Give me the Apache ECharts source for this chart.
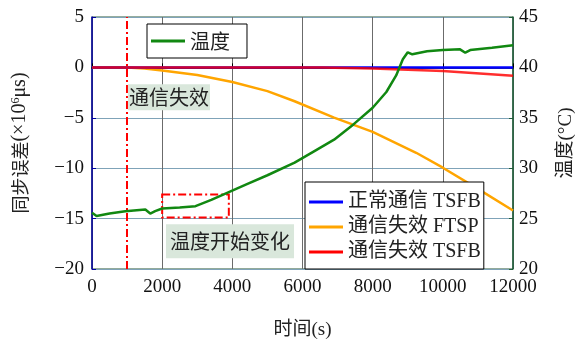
<!DOCTYPE html>
<html>
<head>
<meta charset="utf-8">
<script src="https://cdn.jsdelivr.net/npm/echarts@6/dist/echarts.min.js"></script>
<style>
  html, body { margin: 0; padding: 0; background: #fff; }
  #chart { width: 584px; height: 345px; }
</style>
</head>
<body>
<div id="chart"></div>
<script>
const SERIF = "'Liberation Serif', 'Noto Sans CJK SC', serif";
const CJK = "'Noto Sans CJK SC', 'Liberation Serif', sans-serif";

// Time axis (s)
const timeMin = 0, timeMax = 12000, timeStep = 2000;
// Left axis: synchronisation error (×10^6 μs)
const errMin = -20, errMax = 5, errStep = 5;
// Right axis: temperature (°C)
const tempMin = 20, tempMax = 45, tempStep = 5;

// Temperature curve (°C)
const tempTime  = [0, 130, 500, 950, 1520, 1660, 1800, 2000, 2500, 2950, 3400, 3900, 4400, 5000, 5775, 6340, 6900, 7460, 8000, 8390, 8670, 8860, 9000, 9130, 9550, 10000, 10490, 10640, 10780, 11400, 12000];
const tempValue = [25.58, 25.25, 25.5, 25.74, 25.9, 25.5, 25.74, 26.0, 26.1, 26.23, 26.85, 27.63, 28.4, 29.3, 30.56, 31.7, 32.83, 34.37, 36.0, 37.56, 39.2, 40.8, 41.5, 41.3, 41.6, 41.72, 41.79, 41.46, 41.72, 41.95, 42.2];

// FTSP error after the link failure
const ftspTime  = [0, 1000, 1500, 2000, 3000, 4000, 5000, 5775, 6900, 8000, 9240, 10000, 11000, 12000];
const ftspValue = [0, 0, -0.1, -0.3, -0.75, -1.45, -2.35, -3.36, -4.98, -6.4, -8.47, -9.95, -12.05, -14.2];

// TSFB error after the link failure
const tsfbFailTime  = [0, 6570, 8000, 10000, 12000];
const tsfbFailValue = [0, 0, -0.12, -0.35, -0.83];

// TSFB error with normal communication
const tsfbNormalTime  = [0, 12000];
const tsfbNormalValue = [0, 0];

// Annotations
const failureTime = 1000;
const tempChangeBox = [[2000, -12.6], [3900, -14.9]];
const failureLabelAt = [1025, -2.95];
const tempChangeLabelAt = [2110, -17.25];

const pairs = (xs, ys) => xs.map((x, i) => [x, ys[i]]);
const minus = v => String(v).replace('-', '\u2212');
const plain = v => String(v);
const dashDot = [8, 3, 2, 3];

const chart = echarts.init(document.getElementById('chart'), null, { renderer: 'canvas' });

const option = {
  backgroundColor: '#fff',
  animation: false,
  grid: {
    left: 92, right: 67, top: 17, bottom: 72,
    show: true, borderColor: '#2d5a3c', borderWidth: 1, backgroundColor: 'transparent'
  },
  legend: [
    {
      data: ['温度'],
      left: 147, top: 24,
      icon: 'rect', itemWidth: 34, itemHeight: 3,
      padding: [7, 17, 7, 4],
      backgroundColor: '#fff', borderColor: '#000', borderWidth: 1,
      textStyle: { fontFamily: CJK, fontSize: 20, color: '#222', lineHeight: 20 }
    },
    {
      data: ['正常通信 TSFB', '通信失效 FTSP', '通信失效 TSFB'],
      orient: 'vertical',
      left: 305, top: 182,
      icon: 'rect', itemWidth: 34, itemHeight: 3, itemGap: 3,
      padding: [9, 3, 6, 4],
      backgroundColor: '#fff', borderColor: '#000', borderWidth: 1,
      textStyle: { fontFamily: SERIF, fontSize: 20, color: '#222', lineHeight: 22 }
    }
  ],
  xAxis: {
    type: 'value', min: timeMin, max: timeMax, interval: timeStep,
    name: '时间(s)', nameLocation: 'middle', nameGap: 52,
    nameTextStyle: { fontFamily: SERIF, fontSize: 19, color: '#222' },
    axisLine: { show: true, lineStyle: { color: '#000', width: 1.5 } },
    axisTick: { show: true, inside: true, length: 4, lineStyle: { color: '#000' } },
    axisLabel: { fontFamily: SERIF, fontSize: 19, color: '#111', margin: 9, formatter: plain },
    splitLine: { show: true, lineStyle: { color: '#6b6b6b', width: 1 } }
  },
  yAxis: [
    {
      type: 'value', min: errMin, max: errMax, interval: errStep, position: 'left',
      name: '{c|同步误差}{l|(×10}{s|6}{l|μs)}',
      nameLocation: 'middle', nameGap: 62, nameRotate: 90,
      nameTextStyle: {
        color: '#222',
        rich: {
          c: { fontFamily: CJK, fontSize: 18, color: '#222' },
          l: { fontFamily: SERIF, fontSize: 20, color: '#222' },
          s: { fontFamily: SERIF, fontSize: 12, color: '#222', verticalAlign: 'top', padding: [0, 0, 8, 0] }
        }
      },
      axisLine: { show: true, lineStyle: { color: '#0000a0', width: 1.5 } },
      axisTick: { show: true, inside: true, length: 4, lineStyle: { color: '#0000a0' } },
      axisLabel: { fontFamily: SERIF, fontSize: 19, color: '#111', margin: 8, formatter: minus },
      splitLine: { show: true, lineStyle: { color: '#7fa3b8', width: 1.2 } }
    },
    {
      type: 'value', min: tempMin, max: tempMax, interval: tempStep, position: 'right',
      name: '温度(°C)', nameLocation: 'middle', nameGap: 44, nameRotate: 90,
      nameTextStyle: { fontFamily: SERIF, fontSize: 19, color: '#222' },
      axisLine: { show: true, lineStyle: { color: '#1e5e3a', width: 1.5 } },
      axisTick: { show: true, inside: true, length: 4, lineStyle: { color: '#1e5e3a' } },
      axisLabel: { fontFamily: SERIF, fontSize: 19, color: '#111', margin: 6 },
      splitLine: { show: false }
    }
  ],
  series: [
    {
      name: '通信失效 FTSP', type: 'line', yAxisIndex: 0, z: 2,
      data: pairs(ftspTime, ftspValue),
      showSymbol: false, color: '#ffa500',
      lineStyle: { color: '#ffa500', width: 2.5 },
      markLine: {
        silent: true, symbol: 'none', label: { show: false },
        lineStyle: { color: '#ff0000', width: 2, type: dashDot },
        data: [{ xAxis: failureTime }]
      },
      markArea: {
        silent: true,
        itemStyle: { color: 'rgba(0,0,0,0)', borderColor: '#ff0000', borderWidth: 2, borderType: dashDot },
        data: [[{ coord: tempChangeBox[0] }, { coord: tempChangeBox[1] }]]
      }
    },
    {
      name: '正常通信 TSFB', type: 'line', yAxisIndex: 0, z: 3,
      data: pairs(tsfbNormalTime, tsfbNormalValue),
      showSymbol: false, color: '#0000ff',
      lineStyle: { color: '#0000ff', width: 2.5 }
    },
    {
      name: '通信失效 TSFB', type: 'line', yAxisIndex: 0, z: 4,
      data: pairs(tsfbFailTime, tsfbFailValue),
      showSymbol: false, color: '#ff0000',
      lineStyle: { color: '#ff0000', width: 2.5, opacity: 0.82 }
    },
    {
      name: '温度', type: 'line', yAxisIndex: 1, z: 5,
      data: pairs(tempTime, tempValue),
      showSymbol: false, color: '#118811',
      lineStyle: { color: '#118811', width: 2.5 }
    }
  ]
};

chart.setOption(option);

// Text callouts placed from data coordinates
const toPx = pt => chart.convertToPixel({ xAxisIndex: 0, yAxisIndex: 0 }, pt);
const p1 = toPx(failureLabelAt);
const p2 = toPx(tempChangeLabelAt);
chart.setOption({
  graphic: [
    {
      type: 'text', x: p1[0], y: p1[1], z: 50, silent: true,
      style: {
        text: '通信失效', font: '20px ' + CJK, fill: '#222',
        backgroundColor: '#d9e7db', padding: [3, 1, 3, 1],
        align: 'left', verticalAlign: 'middle'
      }
    },
    {
      type: 'text', x: p2[0], y: p2[1], z: 50, silent: true,
      style: {
        text: '温度开始变化', font: '20px ' + CJK, fill: '#222',
        backgroundColor: '#d9e7db', padding: [7, 4, 7, 4],
        align: 'left', verticalAlign: 'middle'
      }
    }
  ]
});
</script>
</body>
</html>
